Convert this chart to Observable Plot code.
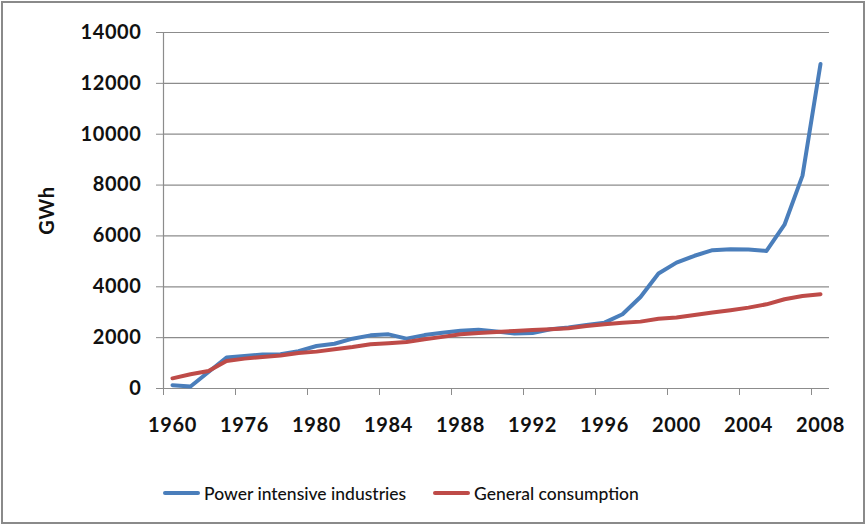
<!DOCTYPE html>
<html>
<head>
<meta charset="utf-8">
<script src="https://cdn.jsdelivr.net/npm/d3@7"></script>
<script src="https://cdn.jsdelivr.net/npm/@observablehq/plot@0.6"></script>
<style>
  html, body { margin: 0; padding: 0; background: #fff; }
  #wrap { position: relative; width: 868px; height: 525px; overflow: hidden; background: #fff; }
  #frame { position: absolute; left: 1px; top: 1px; width: 864px; height: 523px; box-sizing: border-box; border: 2px solid #8a8a8a; }
  #chart { position: absolute; left: 0; top: 0; }
  #chart svg text { letter-spacing: 0.6px; }
  #legend { position: absolute; top: 481px; left: 0; width: 868px; height: 24px; font-family: Lato, "Open Sans", sans-serif; font-size: 17.5px; font-weight: 500; color: #111; }
  .item { position: absolute; top: 0; display: flex; align-items: center; height: 24px; white-space: nowrap; }
  .sw { width: 37px; height: 4px; border-radius: 2px; margin-right: 4px; }
</style>
</head>
<body>
<div id="wrap">
  <div id="frame"></div>
  <div id="chart"></div>
  <div id="legend"></div>
</div>
<script>
// Categories on the x axis (category axis, as in the original spreadsheet chart)
const categories = ["1960","1965","1970","1975","1976","1977","1978","1979","1980","1981","1982","1983","1984","1985","1986","1987","1988","1989","1990","1991","1992","1993","1994","1995","1996","1997","1998","1999","2000","2001","2002","2003","2004","2005","2006","2007","2008"];

// GWh
const powerIntensive = [130, 80, 650, 1220, 1280, 1340, 1350, 1470, 1670, 1760, 1960, 2090, 2130, 1960, 2100, 2190, 2270, 2310, 2240, 2160, 2180, 2330, 2400, 2500, 2590, 2920, 3600, 4520, 4950, 5220, 5440, 5480, 5470, 5410, 6440, 8370, 12760];
const generalConsumption = [400, 560, 690, 1080, 1175, 1240, 1300, 1400, 1450, 1540, 1630, 1740, 1780, 1830, 1940, 2030, 2130, 2185, 2225, 2265, 2300, 2330, 2370, 2460, 2530, 2590, 2630, 2740, 2790, 2890, 2985, 3080, 3180, 3310, 3510, 3640, 3710];

const seriesNames = ["Power intensive industries", "General consumption"];
const seriesColors = ["#4A7EBB", "#BE4B48"];

const yTicks = [0, 2000, 4000, 6000, 8000, 10000, 12000, 14000];
const xTickLabels = ["1960","1976","1980","1984","1988","1992","1996","2000","2004","2008"];

const rows = categories.map((c, i) => ({i, year: c, power: powerIntensive[i], general: generalConsumption[i]}));
const labelIdx = xTickLabels.map(l => categories.indexOf(l));
const tickIdx = labelIdx.map(i => i - 0.5);

const grey = "#8c8c8c";
const font = "Lato, 'Open Sans', sans-serif";

const chart = Plot.plot({
  width: 868,
  height: 455,
  marginLeft: 163,
  marginRight: 39,
  marginTop: 32,
  marginBottom: 67,
  style: {fontFamily: font, background: "transparent", color: "#111"},
  x: {domain: [-0.5, categories.length - 0.5], label: null},
  y: {domain: [0, 14000], label: null},
  marks: [
    Plot.gridY(yTicks, {stroke: grey, strokeOpacity: 1, strokeWidth: 1.2}),
    Plot.ruleX([-0.5], {stroke: grey, strokeWidth: 1.2}),
    Plot.ruleY([0], {stroke: grey, strokeWidth: 1.2}),
    Plot.axisY({ticks: yTicks, tickSize: 7, stroke: grey, tickFormat: () => "", label: null}),
    Plot.axisY({ticks: yTicks, tickSize: 0, tickPadding: 22, fontSize: 20, fontWeight: 700, fill: "#111", tickFormat: d => String(d), label: null}),
    Plot.axisX({ticks: tickIdx, tickSize: 7, stroke: grey, tickFormat: () => "", label: null}),
    Plot.axisX({ticks: labelIdx, tickSize: 0, tickPadding: 29, fontSize: 20, fontWeight: 700, fill: "#111", tickFormat: i => categories[i], label: null}),
    Plot.text(["GWh"], {frameAnchor: "left", rotate: -90, dx: -116, fontSize: 20, fontWeight: 700, fill: "#111", textAnchor: "middle"}),
    Plot.lineY(rows, {x: "i", y: "power", stroke: seriesColors[0], strokeWidth: 4, strokeLinejoin: "round", strokeLinecap: "round"}),
    Plot.lineY(rows, {x: "i", y: "general", stroke: seriesColors[1], strokeWidth: 4, strokeLinejoin: "round", strokeLinecap: "round"})
  ]
});
document.getElementById("chart").appendChild(chart);

const legend = document.getElementById("legend");
const itemLefts = [163, 433];
seriesNames.forEach((name, k) => {
  const it = document.createElement("div");
  it.className = "item";
  it.style.left = itemLefts[k] + "px";
  const sw = document.createElement("span");
  sw.className = "sw";
  sw.style.background = seriesColors[k];
  const tx = document.createElement("span");
  tx.textContent = name;
  it.appendChild(sw);
  it.appendChild(tx);
  legend.appendChild(it);
});
</script>
</body>
</html>
